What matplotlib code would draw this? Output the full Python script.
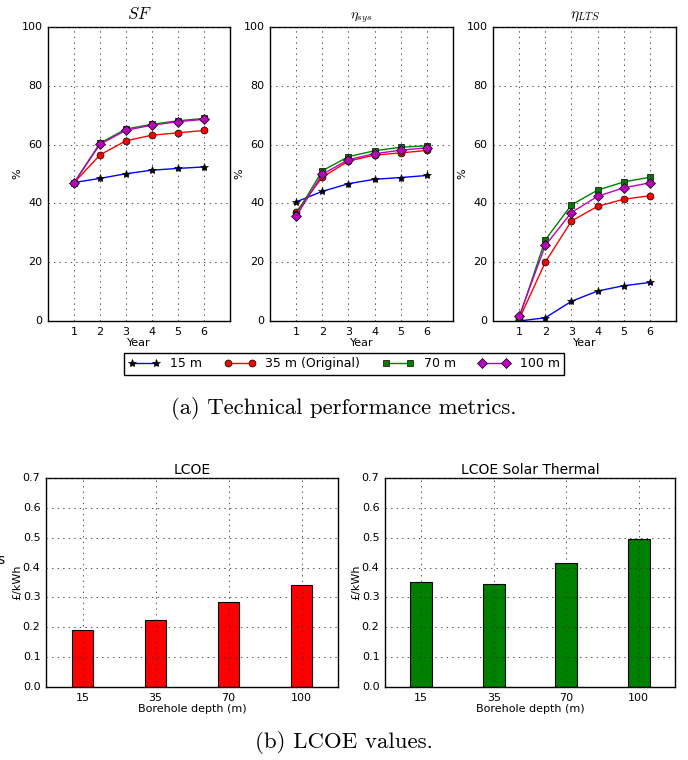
import matplotlib
matplotlib.use("Agg")
import matplotlib.pyplot as plt
import numpy as np

plt.style.use('classic')
plt.rcParams['font.family'] = ['DejaVu Sans']

years = [1, 2, 3, 4, 5, 6]
series_labels = ["15 m", "35 m (Original)", "70 m", "100 m"]

sf_15 = [47.1, 48.5, 50.1, 51.3, 51.9, 52.4]
sf_35 = [47.0, 56.5, 61.3, 63.2, 64.0, 64.8]
sf_70 = [47.0, 60.5, 65.3, 66.9, 68.1, 68.9]
sf_100 = [47.0, 60.1, 64.9, 66.6, 67.8, 68.6]

sys_15 = [40.5, 44.1, 46.7, 48.2, 48.8, 49.5]
sys_35 = [37.1, 48.9, 54.4, 56.4, 57.2, 58.0]
sys_70 = [36.3, 51.1, 55.9, 57.9, 59.1, 59.6]
sys_100 = [35.6, 49.9, 54.9, 56.9, 58.1, 58.9]

lts_15 = [0.0, 1.1, 6.7, 10.2, 12.0, 13.1]
lts_35 = [0.6, 20.0, 34.0, 39.0, 41.4, 42.6]
lts_70 = [1.0, 27.6, 39.5, 44.5, 47.3, 48.9]
lts_100 = [1.6, 25.7, 36.9, 42.4, 45.3, 47.0]

depth_labels = ["15", "35", "70", "100"]
lcoe = [0.190, 0.224, 0.286, 0.340]
lcoe_solar = [0.351, 0.344, 0.415, 0.496]

W, H = 688, 760
fig = plt.figure(figsize=(6.88, 7.6), dpi=100, facecolor='white')

def ax_px(l, t, r, b):
    return fig.add_axes([l / W, 1 - b / H, (r - l) / W, (b - t) / H])

styles = [
    dict(color='blue', marker='*', mfc='black', mec='black', ms=6),
    dict(color='red', marker='o', mfc='red', mec='black', ms=5),
    dict(color='green', marker='s', mfc='green', mec='black', ms=5),
    dict(color='m', marker='D', mfc='m', mec='black', ms=5),
]

top_panels = [
    (48, 230, r'$SF$', [sf_15, sf_35, sf_70, sf_100], 12),
    (270, 453, r'$\eta_{sys}$', [sys_15, sys_35, sys_70, sys_100], 10),
    (493, 676, r'$\eta_{LTS}$', [lts_15, lts_35, lts_70, lts_100], 11),
]

handles = []
for (l, r, title, data, tfs) in top_panels:
    ax = ax_px(l, 27, r, 321)
    hs = []
    for vals, st, lab in zip(data, styles, series_labels):
        h, = ax.plot(years, vals, linewidth=1, label=lab, **st)
        hs.append(h)
    handles = hs
    ax.set_xlim(0, 7)
    ax.set_ylim(0, 100)
    ax.set_xticks(years)
    ax.set_yticks([0, 20, 40, 60, 80, 100])
    ax.grid(True, color='#333333', linestyle=':', linewidth=0.6)
    ax.tick_params(labelsize=8, length=0)
    ax.set_xlabel('Year', fontsize=8, labelpad=1)
    ax.set_ylabel('%', fontsize=8, labelpad=-1)
    ax.set_title(title, fontsize=tfs, pad=6)

leg = fig.legend(handles, series_labels, loc='center',
                 bbox_to_anchor=(344 / W, 1 - 364 / H), ncol=4, fontsize=9,
                 numpoints=2, frameon=True, fancybox=False,
                 handlelength=2.5, columnspacing=1.8, borderpad=0.35)
leg.get_frame().set_edgecolor('black')
leg.get_frame().set_linewidth(1)

fig.text(344 / W, 1 - 408 / H, '(a) Technical performance metrics.',
         ha='center', va='center', fontsize=16.3, family='cmr10')

x = np.arange(len(depth_labels))
bottom_panels = [
    (46, 338, 'LCOE', lcoe, 'red'),
    (385, 675, 'LCOE Solar Thermal', lcoe_solar, 'green'),
]
for (l, r, title, vals, c) in bottom_panels:
    ax = ax_px(l, 478, r, 687)
    ax.bar(x, vals, width=0.3, color=c, edgecolor='black', linewidth=0.8,
           align='center', zorder=2)
    ax.set_xlim(-0.5, 3.5)
    ax.set_ylim(0, 0.7)
    ax.set_xticks(x)
    ax.set_xticklabels(depth_labels)
    ax.set_yticks(np.arange(0, 0.71, 0.1))
    ax.set_yticklabels(['%.1f' % v for v in np.arange(0, 0.71, 0.1)])
    ax.grid(True, color='#333333', linestyle=':', linewidth=0.6, zorder=3)
    ax.set_axisbelow(False)
    ax.tick_params(labelsize=8, length=0)
    ax.set_xlabel('Borehole depth (m)', fontsize=8, labelpad=1)
    ax.set_ylabel('£/kWh', fontsize=8, labelpad=0)
    ax.set_title(title, fontsize=10, pad=3)

fig.text(344 / W, 1 - 742 / H, '(b) LCOE values.',
         ha='center', va='center', fontsize=16.5, family='cmr10')

fig.text(-3 / W, 1 - 560 / H, 's', ha='left', va='center', fontsize=10)

fig.savefig('out.png', dpi=100, facecolor='white')
